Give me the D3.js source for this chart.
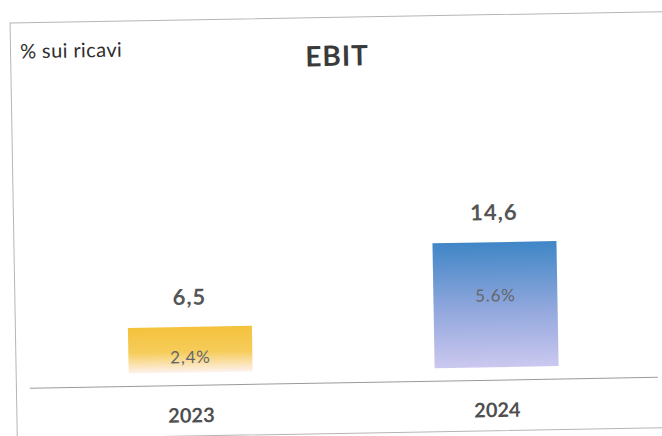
<!DOCTYPE html>
<html>
<head>
<meta charset="utf-8">
<script src="https://cdn.jsdelivr.net/npm/d3@7"></script>
<style>
  html, body { margin: 0; padding: 0; background: #fff; }
  svg { display: block; font-family: Lato, "Open Sans", sans-serif; }
</style>
</head>
<body>
<div id="chart"></div>
<script>
// Chart data
const years = ['2023', '2024'];
const ebitValues = [6.5, 14.6];
const ebitLabels = ['6,5', '14,6'];
const marginLabels = ['2,4%', '5.6%'];
const barColors = [
    { top: '#f4c23c', mid: '#f6cc5a', bottom: '#fdf2ee' },
    { top: '#3f86c6', mid: '#93a8dd', bottom: '#cbc8ef' }
];

const width = 662, height = 436;

const svg = d3.select('#chart')
    .append('svg')
    .attr('width', width)
    .attr('height', height);

// Gradients for the bars
const defs = svg.append('defs');
barColors.forEach((c, i) => {
    const grad = defs.append('linearGradient')
        .attr('id', `grad-${i}`)
        .attr('x1', 0).attr('y1', 0)
        .attr('x2', 0).attr('y2', 1);
    grad.append('stop').attr('offset', '0%').attr('stop-color', c.top);
    grad.append('stop').attr('offset', '55%').attr('stop-color', c.mid);
    grad.append('stop').attr('offset', '100%').attr('stop-color', c.bottom);
});

// The scanned page is slightly tilted
const g = svg.append('g')
    .attr('transform', `rotate(-1, ${width / 2}, ${height / 2})`);

// Frame (top, left, bottom)
g.append('path')
    .attr('d', `M${width + 20},17.5 H13.5 V433.5 H${width + 20}`)
    .attr('fill', 'none')
    .attr('stroke', '#b5b5b5')
    .attr('stroke-width', 1);

// Scales
const x = d3.scalePoint()
    .domain(years)
    .range([188, 494]);
const barWidth = 124;
const barBottom = 370;

const y = d3.scaleLinear()
    .domain([0, 14.6])
    .range([388, 245]);

// Baseline
g.append('line')
    .attr('x1', 27).attr('x2', 655)
    .attr('y1', 383).attr('y2', 383)
    .attr('stroke', '#9a9a9a')
    .attr('stroke-width', 1);

// Bars
g.selectAll('.bar')
    .data(years)
    .join('rect')
    .attr('class', 'bar')
    .attr('x', d => x(d) - barWidth / 2)
    .attr('width', barWidth)
    .attr('y', (d, i) => y(ebitValues[i]))
    .attr('height', (d, i) => barBottom - y(ebitValues[i]))
    .attr('fill', (d, i) => `url(#grad-${i})`);

// Value labels above bars
g.selectAll('.value-label')
    .data(years)
    .join('text')
    .attr('class', 'value-label')
    .attr('x', d => x(d))
    .attr('y', (d, i) => y(ebitValues[i]) - 22)
    .attr('text-anchor', 'middle')
    .style('font-size', '22px')
    .style('font-weight', 'bold')
    .style('letter-spacing', '1px')
    .style('fill', '#555')
    .text((d, i) => ebitLabels[i]);

// Margin labels inside bars
g.selectAll('.margin-label')
    .data(years)
    .join('text')
    .attr('class', 'margin-label')
    .attr('x', d => x(d))
    .attr('y', (d, i) => {
        const top = y(ebitValues[i]);
        return top + (barBottom - top) * 0.29 + 23;
    })
    .attr('text-anchor', 'middle')
    .style('font-size', '17px')
    .style('letter-spacing', '0.8px')
    .style('fill', '#666')
    .text((d, i) => marginLabels[i]);

// Year labels
g.selectAll('.year-label')
    .data(years)
    .join('text')
    .attr('class', 'year-label')
    .attr('x', d => x(d))
    .attr('y', 420)
    .attr('text-anchor', 'middle')
    .style('font-size', '20px')
    .style('font-weight', 'bold')
    .style('fill', '#4f4f4f')
    .text(d => d);

// Title and subtitle
g.append('text')
    .attr('x', 340)
    .attr('y', 66)
    .attr('text-anchor', 'middle')
    .style('font-size', '28px')
    .style('font-weight', 'bold')
    .style('letter-spacing', '1px')
    .style('fill', '#3a3a3a')
    .text('EBIT');

g.append('text')
    .attr('x', 23)
    .attr('y', 53)
    .style('font-size', '20px')
    .style('letter-spacing', '0.4px')
    .style('fill', '#2e2e2e')
    .text('% sui ricavi');
</script>
</body>
</html>
